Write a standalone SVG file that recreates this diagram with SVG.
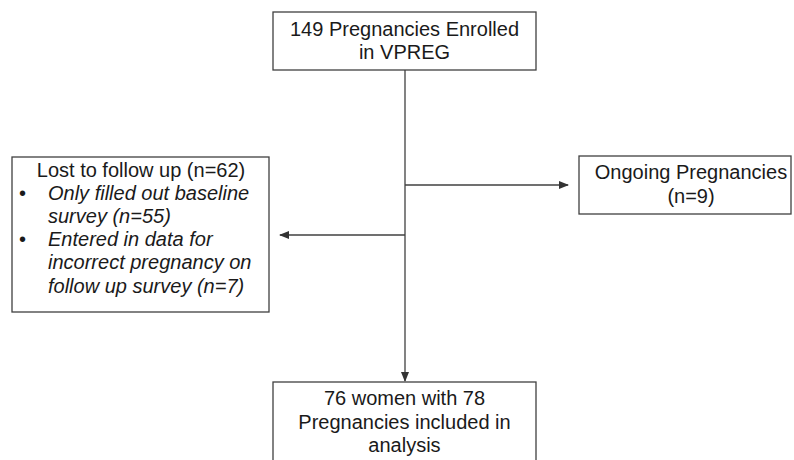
<svg xmlns="http://www.w3.org/2000/svg" width="794" height="460" viewBox="0 0 794 460">
<style>
.box{fill:#fff;stroke:#404040;stroke-width:1.3}
.t{font-family:"Liberation Sans",Arial,sans-serif;font-size:20px;fill:#1a1a1a}
.c{text-anchor:middle}
.i{font-style:italic}
.ln{stroke:#404040;stroke-width:1.3;fill:none}
</style>
<defs>
<marker id="ah" markerWidth="10" markerHeight="8" refX="9" refY="4" orient="auto" markerUnits="userSpaceOnUse">
<path d="M0,0 L10,4 L0,8 z" fill="#333"/>
</marker>
</defs>
<rect width="794" height="460" fill="#fff"/>
<g id="connectors">
<line class="ln" x1="405" y1="70" x2="405" y2="381" marker-end="url(#ah)"/>
<line class="ln" x1="405" y1="185" x2="568" y2="185" marker-end="url(#ah)"/>
<line class="ln" x1="405" y1="235" x2="280" y2="235" marker-end="url(#ah)"/>
</g>
<g id="enrolled">
<rect class="box" x="273" y="12" width="263" height="58"/>
<text class="t c" x="404.5" y="36">149 Pregnancies Enrolled</text>
<text class="t c" x="404.5" y="59">in VPREG</text>
</g>
<g id="ongoing">
<rect class="box" x="579" y="156" width="212" height="58"/>
<text class="t c" x="691" y="179">Ongoing Pregnancies</text>
<text class="t c" x="691" y="203">(n=9)</text>
</g>
<g id="lost">
<rect class="box" x="12" y="157" width="257" height="155"/>
<text class="t c" x="141" y="177">Lost to follow up (n=62)</text>
<text class="t" x="19" y="200">•</text>
<text class="t i" x="48" y="200">Only filled out baseline</text>
<text class="t i" x="48" y="223">survey (n=55)</text>
<text class="t" x="19" y="246">•</text>
<text class="t i" x="48" y="246">Entered in data for</text>
<text class="t i" x="48" y="269">incorrect pregnancy on</text>
<text class="t i" x="48" y="293">follow up survey (n=7)</text>
</g>
<g id="included">
<rect class="box" x="273" y="382" width="263" height="100"/>
<text class="t c" x="404.5" y="405">76 women with 78</text>
<text class="t c" x="404.5" y="429">Pregnancies included in</text>
<text class="t c" x="404.5" y="452">analysis</text>
</g>
</svg>
